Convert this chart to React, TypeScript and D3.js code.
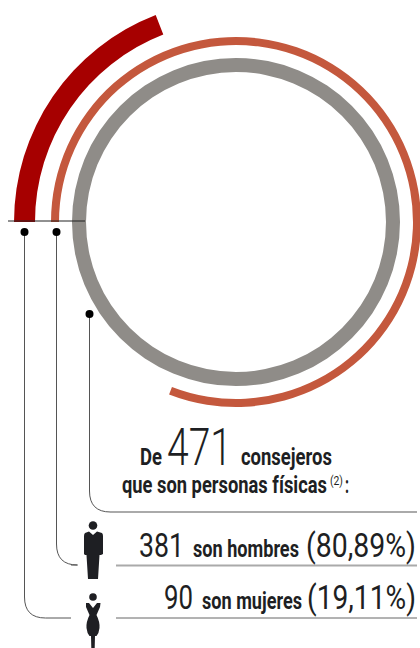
import { useEffect, useRef } from "react";
import * as d3 from "d3";

const total = 471;
const groups = ["hombres", "mujeres"];
const counts = [381, 90];
const percents = ["(80,89%)", "(19,11%)"];
const groupLabels = ["son hombres", "son mujeres"];
const ringColors = ["#c4583d", "#a60000"];
const grayRing = "#8f8c88";
const ink = "#1e1f23";

const body = "'Roboto', sans-serif";

export default function App() {
  const chart = useRef<SVGSVGElement>(null);

  useEffect(() => {
    const svg = d3.select(chart.current);
    svg.selectAll("*").remove();

    const cx = 236;
    const cy = 222;
    // rings all start at the left (9 o'clock) and run clockwise
    const angle = d3.scaleLinear([0, total], [-Math.PI / 2, 1.5 * Math.PI]);
    const arc = d3.arc<any>();
    const rings = svg.append("g").attr("transform", `translate(${cx},${cy})`);

    rings.append("path")
      .attr("fill", grayRing)
      .attr("d", arc({ innerRadius: 150, outerRadius: 164, startAngle: angle(0), endAngle: angle(total) }));
    rings.append("path")
      .attr("fill", ringColors[0])
      .attr("d", arc({ innerRadius: 177, outerRadius: 185, startAngle: angle(0), endAngle: angle(counts[0]) }));
    rings.append("path")
      .attr("fill", ringColors[1])
      .attr("d", arc({ innerRadius: 201, outerRadius: 222, startAngle: angle(0), endAngle: angle(counts[1]) }));

    svg.append("line")
      .attr("x1", 8).attr("x2", 85).attr("y1", 221).attr("y2", 221)
      .attr("stroke", "#222").attr("stroke-width", 1);

    // leaders
    const leaders = [
      { x: 89.5, y0: 314, y1: 512, x1: 417 },
      { x: 56.5, y0: 232, y1: 565, x1: 71 },
      { x: 24.5, y0: 232, y1: 618, x1: 71 },
    ];
    const r = 21;
    leaders.forEach((l) => {
      const p = d3.path();
      p.moveTo(l.x, l.y0);
      p.lineTo(l.x, l.y1 - r);
      p.quadraticCurveTo(l.x, l.y1, l.x + r, l.y1);
      p.lineTo(l.x1, l.y1);
      svg.append("path").attr("d", p.toString()).attr("fill", "none").attr("stroke", "#555").attr("stroke-width", 1);
      svg.append("circle").attr("cx", l.x).attr("cy", l.y0).attr("r", 4).attr("fill", "#000");
    });

    svg.append("line").attr("x1", 110).attr("x2", 417).attr("y1", 512).attr("y2", 512)
      .attr("stroke", "#aaa").attr("stroke-width", 2);
    svg.append("line").attr("x1", 116).attr("x2", 417).attr("y1", 565.5).attr("y2", 565.5)
      .attr("stroke", "#aaa").attr("stroke-width", 2);
    svg.append("line").attr("x1", 116).attr("x2", 417).attr("y1", 618).attr("y2", 618)
      .attr("stroke", "#666").attr("stroke-width", 1);

    // text, squeezed horizontally to the widths in the picture
    const label = (s: string, x: number, y: number, w: number, size: number, weight = 700) => {
      const t = svg.append("text")
        .attr("font-family", body).attr("font-size", size).attr("font-weight", weight)
        .attr("fill", ink)
        .text(s);
      const natural = (t.node() as SVGTextElement).getComputedTextLength();
      t.attr("transform", `translate(${x},${y}) scale(${w / natural},1)`);
    };

    label("De", 140, 465, 22, 23);
    label(String(total), 167, 465, 65, 52, 300);
    label("consejeros", 241, 465, 91, 24);
    label("que son personas físicas", 122, 492.5, 205, 24);
    label("(2)", 330, 485, 13, 12, 400);
    label(":", 345, 492.5, 4, 24);

    label(String(counts[0]), 139, 557, 45, 34, 400);
    label(groupLabels[0], 193, 557, 106, 24);
    label(percents[0], 306, 557, 110, 34, 400);

    label(String(counts[1]), 164, 609, 29, 34, 400);
    label(groupLabels[1], 202, 609, 100, 24);
    label(percents[1], 307, 609, 109, 34, 400);

    // pictograms
    const man = svg.append("g").attr("fill", ink).attr("class", groups[0]);
    man.append("circle").attr("cx", 93).attr("cy", 525.5).attr("r", 4.3);
    man.append("path").attr("d", "M89 531.5 L93 535 L97 531.5 L102 533 Q103 534 103 536 L103 554 L101 555 L99.5 555 L98 579 L88 579 L86.5 555 L85 555 L84 554 L84 536 Q84 534 85 533 Z");

    const woman = svg.append("g").attr("fill", ink).attr("class", groups[1]);
    woman.append("circle").attr("cx", 93).attr("cy", 597).attr("r", 3.8);
    woman.append("path").attr("d", "M86 603 L89 603 L93 608 L97 603 L100.5 603 L100 607 L96.5 615 Q100 622 99.5 628 Q99 633 96.5 636 L95 636 L94.7 648 L91.3 648 L91 636 L89.5 636 Q87 633 86.5 628 Q86 622 89.5 615 L86 607 Z");
  }, []);

  return (
    <svg
      ref={chart}
      width={420}
      height={648}
      style={{ position: "absolute", left: 0, top: 0, background: "#fff" }}
    />
  );
}
